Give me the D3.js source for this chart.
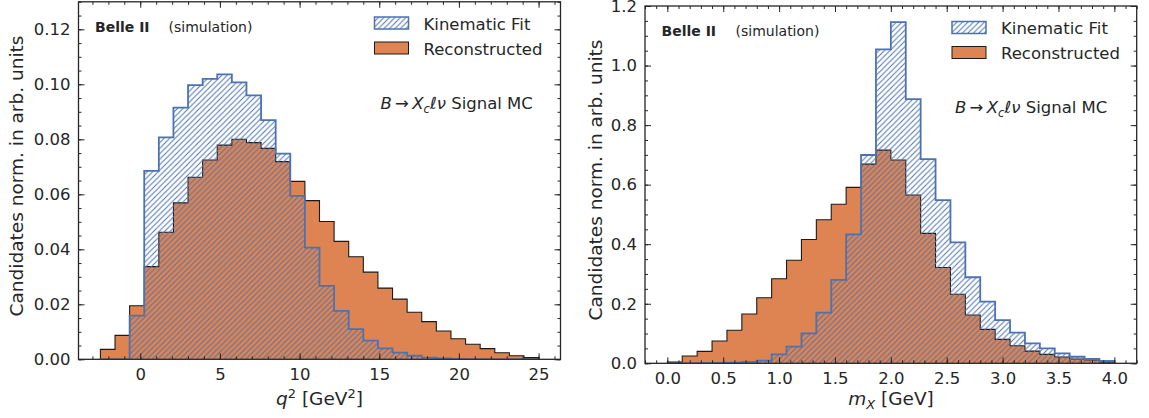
<!DOCTYPE html>
<html>
<head>
<meta charset="utf-8">
<script src="https://cdn.jsdelivr.net/npm/d3@7"></script>
<style>
  html, body { margin: 0; padding: 0; background: #fff; }
  svg { display: block; font-family: "DejaVu Sans", sans-serif; }
</style>
</head>
<body>
<svg id="chart" width="1149" height="418"></svg>
<script>
// q^2 histogram: 30 bins over [-2.5, 25] GeV^2
const q2Range = [-2.5, 25];
const q2Bins = 30;
const q2Reconstructed = [0.0036, 0.0087, 0.0195, 0.0337, 0.0462, 0.0569, 0.0662, 0.0725, 0.0779, 0.0800,
  0.0788, 0.0767, 0.0719, 0.0647, 0.0577, 0.0501, 0.0429, 0.0373, 0.0317, 0.0259,
  0.0219, 0.0171, 0.0137, 0.0103, 0.0075, 0.0055, 0.0039, 0.0024, 0.0013, 0.0006];
const q2KinFit = [0, 0, 0.0159, 0.0685, 0.0807, 0.0915, 0.0997, 0.1020, 0.1036, 0.1007,
  0.0960, 0.0870, 0.0748, 0.0594, 0.0406, 0.0267, 0.0176, 0.0110, 0.0068, 0.0040,
  0.0024, 0.0013, 0.0006, 0.0003, 0.0001, 0, 0, 0, 0, 0];
const q2XTicks = [0, 5, 10, 15, 20, 25];
const q2YTicks = [0, 0.02, 0.04, 0.06, 0.08, 0.10, 0.12];

// m_X histogram: 30 bins over [0, 4] GeV
const mxRange = [0, 4];
const mxBins = 30;
const mxReconstructed = [0.004, 0.0245, 0.040, 0.075, 0.111, 0.1655, 0.220, 0.284, 0.346, 0.416,
  0.482, 0.534, 0.591, 0.669, 0.716, 0.683, 0.565, 0.4365, 0.322, 0.232,
  0.162, 0.114, 0.0805, 0.059, 0.041, 0.030, 0.021, 0.0145, 0.011, 0.004];
const mxKinFit = [0, 0, 0.0005, 0.001, 0.002, 0.005, 0.009, 0.030, 0.056, 0.1007,
  0.170, 0.280, 0.433, 0.6995, 1.054, 1.146, 0.8875, 0.686, 0.548, 0.406,
  0.289, 0.207, 0.145, 0.103, 0.067, 0.050, 0.0335, 0.022, 0.0145, 0.0077];
const mxXTicks = [0, 0.5, 1.0, 1.5, 2.0, 2.5, 3.0, 3.5, 4.0];
const mxYTicks = [0, 0.2, 0.4, 0.6, 0.8, 1.0, 1.2];

const legendLabels = ["Kinematic Fit", "Reconstructed"];

const ORANGE = "#dd8452";
const BLUE = "#4c72b0";
const INK = "#262626";

const svg = d3.select("#chart");
const defs = svg.append("defs");

// diagonal "////" hatch
const pat = defs.append("pattern")
  .attr("id", "hatch")
  .attr("patternUnits", "userSpaceOnUse")
  .attr("width", 5.5).attr("height", 5.5);
pat.append("path")
  .attr("d", "M-1,1 L1,-1 M0,5.5 L5.5,0 M4.5,6.5 L6.5,4.5")
  .attr("stroke", BLUE).attr("stroke-width", 1).attr("fill", "none");

function edges(range, n) {
  const w = (range[1] - range[0]) / n;
  return d3.range(n + 1).map(i => range[0] + i * w);
}

function stepPoints(e, vals) {
  const pts = [[e[0], 0]];
  vals.forEach((v, i) => { pts.push([e[i], v]); pts.push([e[i + 1], v]); });
  pts.push([e[e.length - 1], 0]);
  return pts;
}

function panel(cfg) {
  const { id, xDomain, yDomain, px, py, range, bins, reco, kin, xTicks, yTicks,
          xMinorStep, yMinorStep, xFmt, yFmt } = cfg;
  const x = d3.scaleLinear().domain(xDomain).range(px);
  const y = d3.scaleLinear().domain(yDomain).range(py);
  const g = svg.append("g");

  defs.append("clipPath").attr("id", "clip-" + id)
    .append("rect").attr("x", px[0]).attr("y", py[1])
    .attr("width", px[1] - px[0]).attr("height", py[0] - py[1]);

  const plot = g.append("g").attr("clip-path", `url(#clip-${id})`);
  const e = edges(range, bins);
  const line = d3.line().x(d => x(d[0])).y(d => y(d[1]));

  const recoPts = stepPoints(e, reco);
  plot.append("path").attr("d", line(recoPts) + "Z")
    .attr("fill", ORANGE).attr("stroke", "none");
  plot.append("path").attr("d", line(recoPts))
    .attr("fill", "none").attr("stroke", "#1a1a1a").attr("stroke-width", 1.1);

  const kinPts = stepPoints(e, kin);
  plot.append("path").attr("d", line(kinPts) + "Z")
    .attr("fill", "url(#hatch)").attr("stroke", "none");
  plot.append("path").attr("d", line(kinPts))
    .attr("fill", "none").attr("stroke", BLUE).attr("stroke-width", 1.8)
    .attr("stroke-linejoin", "miter");

  // minor ticks
  const xMinor = d3.range(Math.ceil(xDomain[0] / xMinorStep), Math.floor(xDomain[1] / xMinorStep) + 1)
    .map(k => +(k * xMinorStep).toFixed(6));
  const yMinor = d3.range(0, Math.floor(yDomain[1] / yMinorStep + 1e-6) + 1)
    .map(k => +(k * yMinorStep).toFixed(6));

  const styleAxis = sel => {
    sel.select(".domain").remove();
    sel.selectAll("line").attr("stroke", INK).attr("stroke-width", 1);
    sel.selectAll("text").attr("fill", INK).style("font-size", "16.5px")
      .style("font-family", "DejaVu Sans");
  };

  // bottom
  g.append("g").attr("transform", `translate(0,${py[0]})`)
    .call(d3.axisBottom(x).tickValues(xMinor).tickFormat("").tickSize(-3)).call(styleAxis);
  g.append("g").attr("transform", `translate(0,${py[0]})`)
    .call(d3.axisBottom(x).tickValues(xTicks).tickFormat(xFmt).tickSize(-6).tickPadding(8.5)).call(styleAxis);
  // top
  g.append("g").attr("transform", `translate(0,${py[1]})`)
    .call(d3.axisTop(x).tickValues(xMinor).tickFormat("").tickSize(-3)).call(styleAxis);
  g.append("g").attr("transform", `translate(0,${py[1]})`)
    .call(d3.axisTop(x).tickValues(xTicks).tickFormat("").tickSize(-6)).call(styleAxis);
  // left
  g.append("g").attr("transform", `translate(${px[0]},0)`)
    .call(d3.axisLeft(y).tickValues(yMinor).tickFormat("").tickSize(-3)).call(styleAxis);
  g.append("g").attr("transform", `translate(${px[0]},0)`)
    .call(d3.axisLeft(y).tickValues(yTicks).tickFormat(yFmt).tickSize(-6).tickPadding(8)).call(styleAxis);
  // right
  g.append("g").attr("transform", `translate(${px[1]},0)`)
    .call(d3.axisRight(y).tickValues(yMinor).tickFormat("").tickSize(-3)).call(styleAxis);
  g.append("g").attr("transform", `translate(${px[1]},0)`)
    .call(d3.axisRight(y).tickValues(yTicks).tickFormat("").tickSize(-6)).call(styleAxis);

  // frame
  g.append("rect").attr("x", px[0]).attr("y", py[1])
    .attr("width", px[1] - px[0]).attr("height", py[0] - py[1])
    .attr("fill", "none").attr("stroke", INK).attr("stroke-width", 1.3);

  return { g, x, y };
}

const left = panel({
  id: "q2", xDomain: [-3.875, 26.375], yDomain: [0, 0.13],
  px: [78.5, 560.5], py: [359.3, 1.8], range: q2Range, bins: q2Bins,
  reco: q2Reconstructed, kin: q2KinFit, xTicks: q2XTicks, yTicks: q2YTicks,
  xMinorStep: 1, yMinorStep: 0.005, xFmt: d3.format("d"), yFmt: d3.format(".2f")
});

const right = panel({
  id: "mx", xDomain: [-0.2, 4.2], yDomain: [0, 1.2],
  px: [645, 1136.7], py: [363.3, 6], range: mxRange, bins: mxBins,
  reco: mxReconstructed, kin: mxKinFit, xTicks: mxXTicks, yTicks: mxYTicks,
  xMinorStep: 0.1, yMinorStep: 0.05, xFmt: d3.format(".1f"), yFmt: d3.format(".1f")
});

// annotations
function annotate(g, o) {
  const t = g.append("text").attr("x", o.bx).attr("y", o.by).attr("fill", INK)
    .style("font-size", "14px");
  t.append("tspan").attr("font-weight", "bold").text("Belle II");
  g.append("text").attr("x", o.sx).attr("y", o.by).attr("fill", INK)
    .style("font-size", "14px").text("(simulation)");

  // legend
  legendLabels.forEach((lab, i) => {
    const ly = o.ly + i * 25;
    const r = g.append("rect").attr("x", o.lx).attr("y", ly).attr("width", 34).attr("height", 12);
    if (i === 0) r.attr("fill", "url(#hatch)").attr("stroke", BLUE).attr("stroke-width", 1.5);
    else r.attr("fill", ORANGE).attr("stroke", "#1a1a1a").attr("stroke-width", 1);
    g.append("text").attr("x", o.lx + 49).attr("y", ly + 12.5).attr("fill", INK)
      .style("font-size", "16.5px").text(lab);
  });

  // process label: B -> X_c l nu Signal MC
  const m = g.append("text").attr("x", o.mx).attr("y", o.my).attr("fill", INK)
    .style("font-size", "16.5px");
  m.append("tspan").attr("font-style", "italic").text("B");
  m.append("tspan").text("\u2009\u2192\u2009");
  m.append("tspan").attr("font-style", "italic").text("X");
  m.append("tspan").attr("font-style", "italic").attr("dy", 4).style("font-size", "11.5px").text("c");
  m.append("tspan").attr("font-style", "italic").attr("dy", -4).text("\u2113\u03BD");
  m.append("tspan").text(" Signal MC");
}

annotate(left.g, { bx: 95, by: 32, sx: 168.5, lx: 374.5, ly: 17, mx: 380.5, my: 109 });
annotate(right.g, { bx: 661.5, by: 35.5, sx: 735.5, lx: 952, ly: 21.5, mx: 955, my: 113 });

// axis titles
function xTitle(g, cx, parts) {
  const t = g.append("text").attr("x", cx).attr("y", 405).attr("text-anchor", "middle")
    .attr("fill", INK).style("font-size", "18.5px");
  parts(t);
}
xTitle(left.g, 319.5, t => {
  t.append("tspan").attr("font-style", "italic").text("q");
  t.append("tspan").attr("dy", -7).style("font-size", "13px").text("2");
  t.append("tspan").attr("dy", 7).text(" [GeV");
  t.append("tspan").attr("dy", -7).style("font-size", "13px").text("2");
  t.append("tspan").attr("dy", 7).text("]");
});
xTitle(right.g, 891, t => {
  t.append("tspan").attr("font-style", "italic").text("m");
  t.append("tspan").attr("font-style", "italic").attr("dy", 4).style("font-size", "13px").text("X");
  t.append("tspan").attr("dy", -4).text(" [GeV]");
});

function yTitle(g, bx, cy) {
  g.append("text").attr("transform", `translate(${bx},${cy}) rotate(-90)`)
    .attr("text-anchor", "middle").attr("fill", INK).style("font-size", "18.5px")
    .text("Candidates norm. in arb. units");
}
yTitle(left.g, 23, 176);
yTitle(right.g, 602, 180);
</script>
</body>
</html>
